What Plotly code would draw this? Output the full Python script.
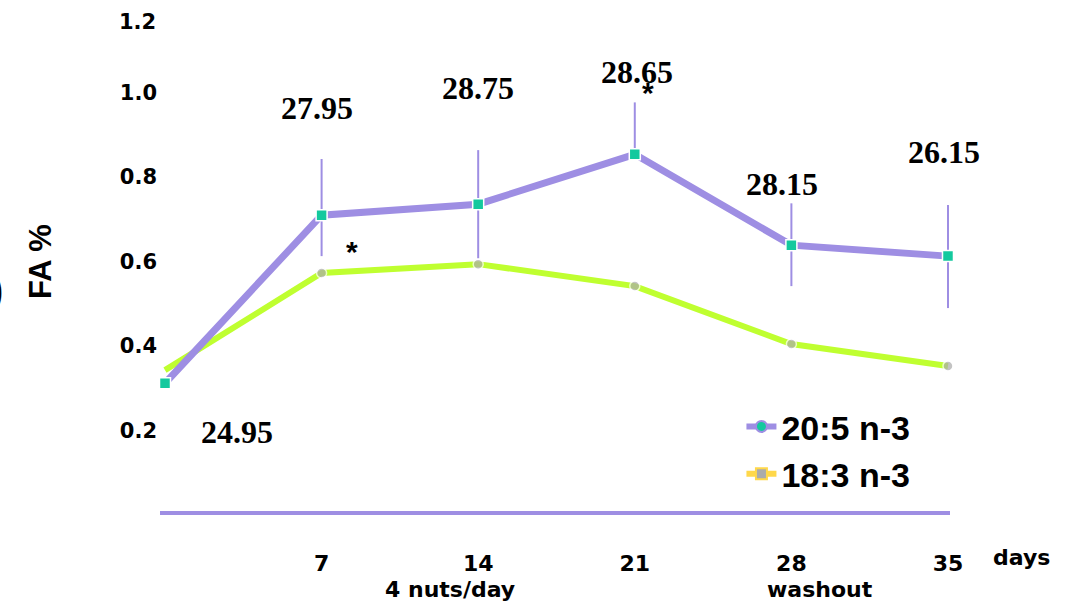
import plotly.graph_objects as go

# ---- data ----
days = [0, 7, 14, 21, 28, 35]
epa = [0.312, 0.710, 0.736, 0.854, 0.639, 0.613]          # 20:5 n-3
epa_err_plus = [0, 0.133, 0.128, 0.123, 0.099, 0.121]
epa_err_minus = [0, 0.097, 0.128, 0, 0.097, 0.123]
ala = [0.343, 0.573, 0.594, 0.542, 0.405, 0.353]           # 18:3 n-3
series_names = ["20:5 n-3", "18:3 n-3"]

x_ticks = [7, 14, 21, 28, 35]
y_ticks = [0.2, 0.4, 0.6, 0.8, 1.0]
y_tick_text = ["0.2", "0.4", "0.6", "0.8", "1.0"]
y_top_tick = 1.2

value_labels = ["24.95", "27.95", "28.75", "28.65", "28.15", "26.15"]
star_days = [7, 21, 35]

# ---- styling ----
PURPLE = "#9E8EE3"
GREEN = "#BFFF30"
TEAL = "#14C99E"
GREY = "#ABABAB"
YELLOW = "#FFD84A"
SANS = "DejaVu Sans, Verdana, sans-serif"
ARIAL = "Liberation Sans, Arial, sans-serif"
SERIF = "Liberation Serif, Times New Roman, serif"

fig = go.Figure()

fig.add_trace(go.Scatter(
    x=days, y=ala, mode="lines+markers", showlegend=False, cliponaxis=False,
    line=dict(color=GREEN, width=6),
    marker=dict(symbol="circle", size=[0, 10, 10, 10, 10, 10], color=GREY,
                line=dict(color="white", width=1.5)),
))
fig.add_trace(go.Scatter(
    x=days, y=epa, mode="lines+markers", showlegend=False, cliponaxis=False,
    line=dict(color=PURPLE, width=7),
    marker=dict(symbol="square", size=11, color=TEAL,
                line=dict(color="white", width=1.5)),
    error_y=dict(type="data", symmetric=False, array=epa_err_plus,
                 arrayminus=epa_err_minus, color=PURPLE, thickness=2, width=0),
))

# legend-only traces (as in the original legend)
fig.add_trace(go.Scatter(
    x=[None], y=[None], mode="lines+markers", name=series_names[0],
    legendgroup="a", line=dict(color=PURPLE, width=6),
    marker=dict(symbol="circle", size=11, color=TEAL, line=dict(color=PURPLE, width=2)),
))
fig.add_trace(go.Scatter(
    x=[None], y=[None], mode="lines+markers", name=series_names[1],
    legendgroup="b", line=dict(color=YELLOW, width=6),
    marker=dict(symbol="square", size=11, color=GREY, line=dict(color=YELLOW, width=2)),
))

# value labels (offset positions relative to each day)
label_dx = [3.2, -0.2, 0.0, 0.1, -0.4, -0.2]
label_y = [0.196, 0.963, 1.011, 1.049, 0.783, 0.859]
for d, t, dx, yy in zip(days, value_labels, label_dx, label_y):
    fig.add_annotation(x=d + dx, y=yy, text=t, showarrow=False,
                       xanchor="center", yanchor="middle",
                       font=dict(family=SERIF, size=32, color="black", weight="bold"))

star_dx = [1.35, 0.6, 0.45]
star_y = [0.625, 1.000, 0.786]
for d, dx, yy in zip(star_days, star_dx, star_y):
    fig.add_annotation(x=d + dx, y=yy, text="*", showarrow=False,
                       xanchor="center", yanchor="middle",
                       font=dict(family=ARIAL, size=30, color="black", weight="bold"))

# top y tick label (sits slightly below its gridline position in the original)
fig.add_annotation(xref="paper", yref="y", x=0, y=y_top_tick, text=str(y_top_tick),
                   xanchor="right", yanchor="middle", xshift=-2, yshift=-14,
                   showarrow=False,
                   font=dict(family=SANS, size=21, color="black", weight="bold"))

fig.add_annotation(xref="paper", yref="paper", x=1.091, y=-0.0915, text="days",
                   xanchor="center", yanchor="middle", showarrow=False,
                   font=dict(family=SANS, size=22, color="black", weight="bold"))
fig.add_annotation(xref="x", yref="paper", x=12.74, y=-0.157, text="4 nuts/day",
                   xanchor="center", yanchor="middle", showarrow=False,
                   font=dict(family=SANS, size=22, color="black", weight="bold"))
fig.add_annotation(xref="x", yref="paper", x=29.28, y=-0.157, text="washout",
                   xanchor="center", yanchor="middle", showarrow=False,
                   font=dict(family=SANS, size=22, color="black", weight="bold"))

# y axis title
fig.add_annotation(xref="paper", yref="paper", x=-0.152, y=0.497, text="FA %",
                   textangle=-90, xanchor="center", yanchor="middle", showarrow=False,
                   font=dict(family=ARIAL, size=31, color="black", weight="bold"))
# clipped bracket at far left edge
fig.add_annotation(xref="paper", yref="paper", x=-0.196, y=0.44, text=")",
                   xanchor="right", yanchor="middle", showarrow=False,
                   font=dict(family=ARIAL, size=40, color="black", weight="bold"))

fig.update_layout(
    width=1075, height=603,
    margin=dict(l=160, r=125, t=8, b=92),
    paper_bgcolor="white", plot_bgcolor="white",
    showlegend=True,
    legend=dict(x=0.736, y=0.225, xanchor="left", yanchor="top",
                font=dict(family=ARIAL, size=34, color="black", weight="bold"),
                tracegroupgap=0, itemwidth=30, bgcolor="rgba(0,0,0,0)"),
    xaxis=dict(range=[-0.2235, 35.09], tickvals=x_ticks, ticktext=[str(v) for v in x_ticks],
               showgrid=False, zeroline=False, showline=True, linecolor=PURPLE, linewidth=4,
               ticks="inside", ticklen=4, tickwidth=1, tickcolor="white",
               ticklabelstandoff=30,
               tickfont=dict(family=SANS, size=22, color="black", weight="bold")),
    yaxis=dict(range=[0.0095, 1.2005], tickvals=y_ticks, ticktext=y_tick_text,
               showgrid=False, zeroline=False, showline=False, ticks="",
               ticklabelstandoff=2,
               tickfont=dict(family=SANS, size=21, color="black", weight="bold")),
)

fig.write_html(
    "out.html",
    config={"displayModeBar": False},
    post_script="document.body.style.margin='0';document.body.style.padding='0';"
                "document.body.style.overflow='hidden';",
)
